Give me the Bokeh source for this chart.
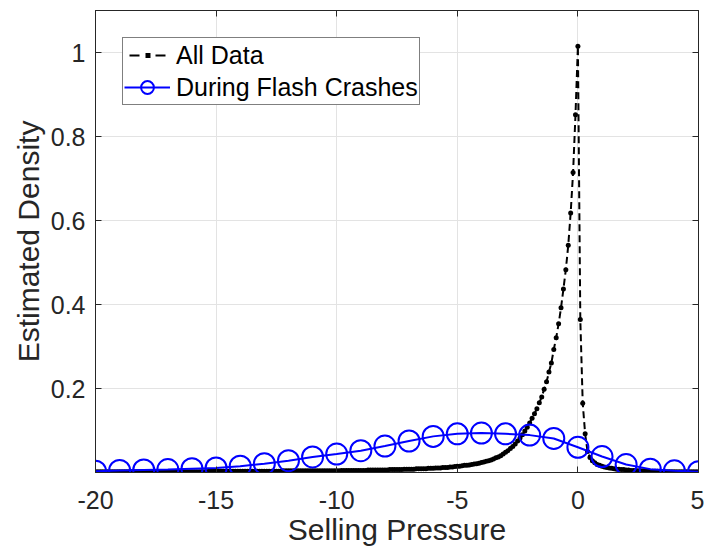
import numpy as np
from bokeh.plotting import figure
from bokeh.models import (Range1d, FixedTicker, LinearAxis, Legend, LegendItem,
                          CustomJSTickFormatter, ColumnDataSource)
from bokeh.embed import file_html
from bokeh.resources import INLINE

# ---------------- data ----------------
# "All Data": estimated density on a grid from -20 to 5 (step 0.1)
all_x_start, all_x_step = -20.0, 0.1
all_density = [
    # -20.0 .. -15.1
    0.002, 0.002, 0.002, 0.002, 0.002, 0.002, 0.002, 0.002, 0.002, 0.002,
    0.002, 0.002, 0.002, 0.002, 0.002, 0.002, 0.002, 0.002, 0.002, 0.002,
    0.002, 0.002, 0.002, 0.002, 0.002, 0.002, 0.002, 0.002, 0.002, 0.002,
    0.002, 0.002, 0.002, 0.002, 0.002, 0.002, 0.002, 0.002, 0.002, 0.002,
    0.002, 0.002, 0.002, 0.002, 0.002, 0.002, 0.002, 0.003, 0.003, 0.003,
    # -15.0 .. -10.1
    0.003, 0.003, 0.003, 0.003, 0.003, 0.003, 0.003, 0.003, 0.003, 0.003,
    0.003, 0.003, 0.003, 0.003, 0.003, 0.003, 0.003, 0.003, 0.003, 0.003,
    0.003, 0.003, 0.003, 0.003, 0.003, 0.003, 0.003, 0.003, 0.004, 0.004,
    0.004, 0.004, 0.004, 0.004, 0.004, 0.004, 0.004, 0.004, 0.004, 0.004,
    0.004, 0.004, 0.004, 0.004, 0.004, 0.004, 0.004, 0.004, 0.004, 0.004,
    # -10.0 .. -5.1
    0.004, 0.004, 0.005, 0.005, 0.005, 0.005, 0.005, 0.005, 0.005, 0.005,
    0.005, 0.005, 0.005, 0.006, 0.006, 0.006, 0.006, 0.006, 0.006, 0.006,
    0.006, 0.006, 0.007, 0.007, 0.007, 0.007, 0.007, 0.007, 0.008, 0.008,
    0.008, 0.008, 0.008, 0.009, 0.009, 0.009, 0.009, 0.009, 0.010, 0.010,
    0.010, 0.011, 0.011, 0.011, 0.012, 0.012, 0.012, 0.013, 0.013, 0.014,
    # -5.0 .. -0.1
    0.015, 0.015, 0.016, 0.017, 0.017, 0.018, 0.019, 0.020, 0.021, 0.022,
    0.024, 0.025, 0.027, 0.028, 0.030, 0.032, 0.035, 0.037, 0.040, 0.044,
    0.048, 0.052, 0.057, 0.062, 0.068, 0.075, 0.082, 0.090, 0.099, 0.108,
    0.118, 0.129, 0.140, 0.152, 0.166, 0.180, 0.198, 0.216, 0.239, 0.261,
    0.293, 0.321, 0.354, 0.392, 0.437, 0.483, 0.541, 0.618, 0.714, 0.852,
    # 0.0 .. 5.0
    1.015, 0.364, 0.165, 0.092, 0.050, 0.036, 0.028, 0.023, 0.019, 0.017,
    0.015, 0.013, 0.012, 0.011, 0.010, 0.009, 0.008, 0.008, 0.007, 0.007,
    0.006, 0.006, 0.005, 0.005, 0.005, 0.004, 0.004, 0.004, 0.004, 0.003,
    0.003, 0.003, 0.003, 0.003, 0.003, 0.002, 0.002, 0.002, 0.002, 0.002,
    0.002, 0.002, 0.002, 0.002, 0.002, 0.002, 0.002, 0.002, 0.002, 0.002,
    0.002,
]
all_x = [round(all_x_start + i * all_x_step, 1) for i in range(len(all_density))]

# "During Flash Crashes"
crash_x = [-20, -19, -18, -17, -16, -15, -14, -13, -12, -11, -10, -9, -8,
           -7, -6, -5, -4, -3, -2, -1, 0, 1, 2, 3, 4, 5]
crash_density = [0.003, 0.005, 0.006, 0.007, 0.009, 0.011, 0.015, 0.021,
                 0.028, 0.037, 0.044, 0.052, 0.063, 0.075, 0.086, 0.092,
                 0.094, 0.092, 0.089, 0.081, 0.060, 0.038, 0.019, 0.008,
                 0.004, 0.002]

x_ticks = [-20, -15, -10, -5, 0, 5]
y_ticks = [0.2, 0.4, 0.6, 0.8, 1.0]
x_label = "Selling Pressure"
y_label = "Estimated Density"
series_names = ["All Data", "During Flash Crashes"]

# ---------------- figure ----------------
FONT = "Liberation Sans"
AX = "#262626"

p = figure(width=704, height=554, x_range=Range1d(-20, 5), y_range=Range1d(0, 1.1),
           output_backend="svg", toolbar_location=None,
           min_border_left=95, min_border_right=6, min_border_top=10, min_border_bottom=82)
p.outline_line_color = AX
p.outline_line_width = 1
p.background_fill_color = "white"
p.border_fill_color = "white"

fmt = CustomJSTickFormatter(code="return String(Number(tick.toFixed(2)));")

for ax in p.xaxis:
    ax.ticker = FixedTicker(ticks=x_ticks)
    ax.formatter = fmt
    ax.axis_label = x_label
for ax in p.yaxis:
    ax.ticker = FixedTicker(ticks=y_ticks)
    ax.formatter = fmt
    ax.axis_label = y_label

for ax in list(p.xaxis) + list(p.yaxis):
    ax.major_tick_in = 6
    ax.major_tick_out = 0
    ax.minor_tick_line_color = None
    ax.axis_line_color = AX
    ax.major_tick_line_color = AX
    ax.major_label_text_font = FONT
    ax.major_label_text_font_size = "25px"
    ax.major_label_text_color = AX
    ax.axis_label_text_font = FONT
    ax.axis_label_text_font_size = "30px"
    ax.axis_label_text_font_style = "normal"
    ax.axis_label_text_color = AX

p.xaxis.major_label_standoff = 18
p.xaxis.axis_label_standoff = 1
p.yaxis.major_label_standoff = 10
p.yaxis.axis_label_standoff = 3

# mirrored inner ticks on top and right (box on), no labels drawn
for loc, ticks in (("right", y_ticks), ("above", x_ticks)):
    a = LinearAxis(ticker=FixedTicker(ticks=ticks), formatter=fmt)
    a.major_tick_in = 6
    a.major_tick_out = 0
    a.minor_tick_line_color = None
    a.axis_line_color = AX
    a.major_tick_line_color = AX
    a.major_label_text_font_size = "0px"
    a.major_label_text_color = None
    a.major_label_standoff = 0
    p.add_layout(a, loc)

p.xgrid.ticker = FixedTicker(ticks=x_ticks)
p.ygrid.ticker = FixedTicker(ticks=y_ticks)
p.grid.grid_line_color = "#e3e3e3"
p.grid.grid_line_width = 1

src_all = ColumnDataSource(dict(x=all_x, y=all_density))
src_crash = ColumnDataSource(dict(x=crash_x, y=crash_density))

l1 = p.line("x", "y", source=src_all, line_color="black", line_width=2, line_dash="7 4")
s1 = p.scatter("x", "y", source=src_all, marker="dot", size=20,
               line_color="black", fill_color="black")
l2 = p.line("x", "y", source=src_crash, line_color="#0000ff", line_width=2)
s2 = p.scatter("x", "y", source=src_crash, marker="circle", size=21,
               line_color="#0000ff", line_width=2, fill_color=None)

# legend-only keys for "All Data" (NaN data: nothing drawn in the plot area)
key_src = ColumnDataSource(dict(x=[float("nan")], y=[float("nan")]))
key_dash = p.line("x", "y", source=key_src, line_color="black", line_width=2,
                  line_dash="0 5 10 16 10 100")
key_dot = p.line("x", "y", source=key_src, line_color="black", line_width=5,
                 line_dash="0 21 5 100")

legend = Legend(items=[LegendItem(label=series_names[0], renderers=[key_dash, key_dot]),
                       LegendItem(label=series_names[1], renderers=[l2, s2])],
                location="top_left", margin=27)
legend.border_line_color = "black"
legend.border_line_width = 1
legend.background_fill_color = "white"
legend.background_fill_alpha = 1
legend.label_text_font = FONT
legend.label_text_font_size = "25px"
legend.label_text_color = "black"
legend.glyph_width = 46
legend.glyph_height = 32
legend.label_height = 30
legend.label_standoff = 6
legend.padding = 1
legend.spacing = 0
p.add_layout(legend, "center")

open("out.html", "w").write(file_html(p, INLINE))
